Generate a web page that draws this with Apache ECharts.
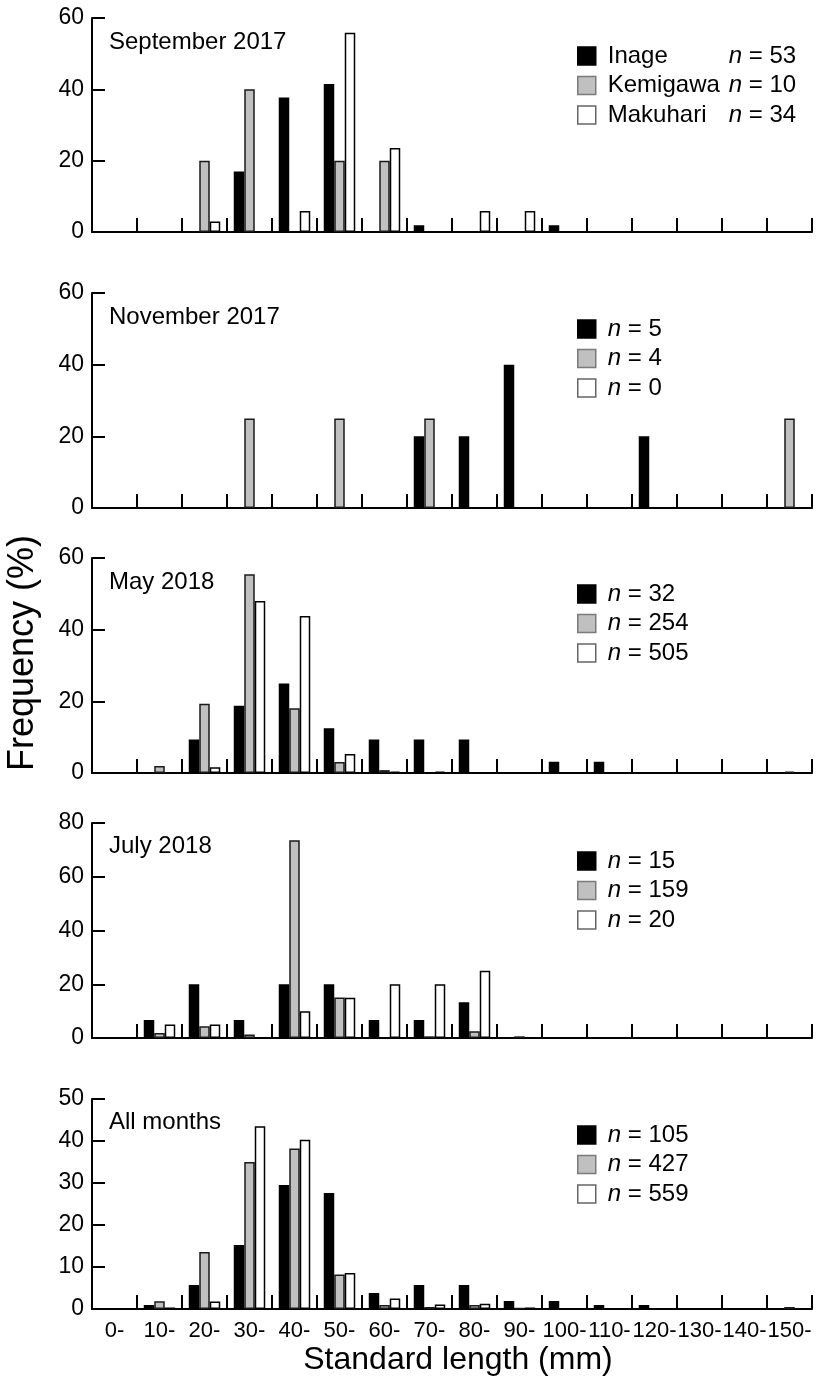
<!DOCTYPE html>
<html>
<head>
<meta charset="utf-8">
<script src="https://cdn.jsdelivr.net/npm/echarts@6/dist/echarts.min.js"></script>
<style>
  html, body { margin: 0; padding: 0; background: #fff; }
  #chart { width: 820px; height: 1386px; }
</style>
</head>
<body>
<div id="chart"></div>
<script>
// ---------------- DATA ----------------
const categories = ['0-','10-','20-','30-','40-','50-','60-','70-','80-','90-','100-','110-','120-','130-','140-','150-'];
const seriesNames = ['Inage', 'Kemigawa', 'Makuhari'];
const panelTitles = ['September 2017', 'November 2017', 'May 2018', 'July 2018', 'All months'];
const nCounts = [[53, 10, 34], [5, 4, 0], [32, 254, 505], [15, 159, 20], [105, 427, 559]];
const yMax = [60, 60, 60, 80, 50];
const yStep = [20, 20, 20, 20, 10];

const sep2017Inage    = [0, 0, 0, 16.98, 37.74, 41.51, 0, 1.89, 0, 0, 1.89, 0, 0, 0, 0, 0];
const sep2017Kemigawa = [0, 0, 20, 40, 0, 20, 20, 0, 0, 0, 0, 0, 0, 0, 0, 0];
const sep2017Makuhari = [0, 0, 2.94, 0, 5.88, 55.88, 23.53, 0, 5.88, 5.88, 0, 0, 0, 0, 0, 0];

const nov2017Inage    = [0, 0, 0, 0, 0, 0, 0, 20, 20, 40, 0, 0, 20, 0, 0, 0];
const nov2017Kemigawa = [0, 0, 0, 25, 0, 25, 0, 25, 0, 0, 0, 0, 0, 0, 0, 25];
const nov2017Makuhari = [0, 0, 0, 0, 0, 0, 0, 0, 0, 0, 0, 0, 0, 0, 0, 0];

const may2018Inage    = [0, 0, 9.38, 18.75, 25, 12.5, 9.38, 9.38, 9.38, 0, 3.13, 3.13, 0, 0, 0, 0];
const may2018Kemigawa = [0, 1.97, 19.3, 55.5, 18.1, 3.1, 0.8, 0, 0, 0, 0, 0, 0, 0, 0, 0.39];
const may2018Makuhari = [0, 0.2, 1.58, 48.0, 43.8, 5.3, 0.4, 0.4, 0, 0, 0, 0, 0, 0, 0, 0];

const jul2018Inage    = [0, 6.67, 20, 6.67, 20, 20, 6.67, 6.67, 13.33, 0, 0, 0, 0, 0, 0, 0];
const jul2018Kemigawa = [0, 1.89, 4.4, 1.26, 73.6, 15.1, 0, 0.63, 2.52, 0.63, 0, 0, 0, 0, 0, 0];
const jul2018Makuhari = [0, 5, 5, 0, 10, 15, 20, 20, 25, 0, 0, 0, 0, 0, 0, 0];

const allInage    = [0, 0.95, 5.71, 15.24, 29.52, 27.62, 3.81, 5.71, 5.71, 1.9, 1.9, 0.95, 0.95, 0, 0, 0];
const allKemigawa = [0, 1.87, 13.58, 35.0, 38.2, 8.2, 0.94, 0.47, 0.94, 0.23, 0, 0, 0, 0, 0, 0.47];
const allMakuhari = [0, 0.36, 1.79, 43.5, 40.3, 8.6, 2.5, 1.07, 1.25, 0.36, 0, 0, 0, 0, 0, 0];

const panelData = [
  [sep2017Inage, sep2017Kemigawa, sep2017Makuhari],
  [nov2017Inage, nov2017Kemigawa, nov2017Makuhari],
  [may2018Inage, may2018Kemigawa, may2018Makuhari],
  [jul2018Inage, jul2018Kemigawa, jul2018Makuhari],
  [allInage, allKemigawa, allMakuhari]
];

// ---------------- LAYOUT / STYLE ----------------
const FONT = '"Liberation Sans", Arial, Helvetica, sans-serif';
const gridTops = [18, 293, 558, 823, 1099];
const gridHeights = [214, 215, 215, 215, 210];
const legendRow1 = [54, 327, 592, 859, 1133];
const titleY = [42, 317, 582, 846, 1122];
const fills = ['#000000', '#c0c0c0', '#ffffff'];
const borders = ['#000000', '#1a1a1a', '#000000'];
const legendBorders = ['#000000', '#7a7a7a', '#666666'];

const grids = [], xAxes = [], yAxes = [], series = [], legends = [], graphics = [];

panelData.forEach((panel, i) => {
  grids.push({ left: 92, right: 8, top: gridTops[i], height: gridHeights[i], containLabel: false });
  xAxes.push({
    type: 'category', gridIndex: i, data: categories, boundaryGap: true,
    axisLine: { show: true, lineStyle: { color: '#000', width: 2 } },
    axisTick: { show: true, inside: true, length: 14, interval: 0, lineStyle: { color: '#000', width: 2 } },
    axisLabel: { show: i === 4, interval: 0, margin: 11, color: '#000', fontSize: 22, fontFamily: FONT },
    splitLine: { show: false }
  });
  yAxes.push({
    type: 'value', gridIndex: i, min: 0, max: yMax[i], interval: yStep[i],
    axisLine: { show: true, lineStyle: { color: '#000', width: 2 } },
    axisTick: { show: true, inside: true, length: 13, lineStyle: { color: '#000', width: 2 } },
    axisLabel: { margin: 8, color: '#000', fontSize: 23, fontFamily: FONT },
    splitLine: { show: false }
  });
  panel.forEach((vals, k) => {
    series.push({
      name: seriesNames[k], type: 'bar', xAxisIndex: i, yAxisIndex: i,
      data: vals.map(v => (v === 0 ? '-' : v)),
      barGap: '0%', barCategoryGap: '30%',
      itemStyle: { color: fills[k], borderColor: borders[k], borderWidth: 1.5 },
      emphasis: { disabled: true }, silent: true, animation: false
    });
  });
  const rich = {
    sp: { width: 7, fontSize: 24, fontFamily: FONT, lineHeight: 20 },
    nm: { width: 121, fontSize: 24, fontFamily: FONT, color: '#000', lineHeight: 20 },
    it: { fontStyle: 'italic', fontSize: 24, fontFamily: FONT, color: '#000', lineHeight: 20 },
    t: { fontSize: 24, fontFamily: FONT, color: '#000', lineHeight: 20 }
  };
  legends.push({
    orient: 'vertical', left: 577, top: legendRow1[i] - 10, padding: 0,
    itemWidth: 18, itemHeight: 18, itemGap: 5.5, selectedMode: false,
    icon: 'rect',
    data: seriesNames.map((nm, k) => ({ name: nm, itemStyle: { color: fills[k], borderColor: legendBorders[k], borderWidth: 1.5 } })),
    formatter: (name) => {
      const k = seriesNames.indexOf(name);
      return i === 0
        ? '{sp| }{nm|' + name + '}{it|n}{t| = ' + nCounts[i][k] + '}'
        : '{sp| }{it|n}{t| = ' + nCounts[i][k] + '}';
    },
    textStyle: { fontFamily: FONT, fontSize: 24, color: '#000', lineHeight: 20, rich: rich }
  });
  graphics.push({
    type: 'text', left: 109, top: titleY[i] - 12,
    style: { text: panelTitles[i], font: '24px ' + FONT, fill: '#000' }
  });
});

graphics.push({
  type: 'text', x: 23, y: 653, rotation: Math.PI / 2,
  style: { text: 'Frequency (%)', font: '36px ' + FONT, fill: '#000', align: 'center', verticalAlign: 'middle', textAlign: 'center', textVerticalAlign: 'middle' }
});
graphics.push({
  type: 'text', x: 458, y: 1360,
  style: { text: 'Standard length (mm)', font: '32px ' + FONT, fill: '#000', align: 'center', verticalAlign: 'middle', textAlign: 'center', textVerticalAlign: 'middle' }
});

const chart = echarts.init(document.getElementById('chart'), null, { renderer: 'canvas' });
chart.setOption({
  backgroundColor: '#ffffff',
  animation: false,
  grid: grids,
  xAxis: xAxes,
  yAxis: yAxes,
  legend: legends,
  series: series,
  graphic: graphics
});
</script>
</body>
</html>
